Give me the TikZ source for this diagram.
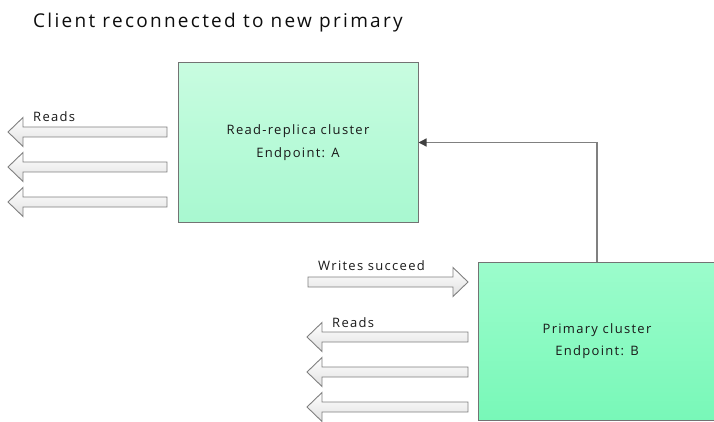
\documentclass[tikz,border=0pt]{standalone}
\usepackage{fontspec}
\setmainfont{Open Sans}
\newfontfamily\titlefont[LetterSpace=12]{Open Sans}
\newfontfamily\lblfont[LetterSpace=10]{Open Sans}
\usetikzlibrary{arrows.meta}
\tikzset{
  blockarrow/.style={draw=black!50, line width=0.9pt, top color=white, bottom color=black!12, line join=miter},
  cluster/.style={draw=black!55, line width=1pt, rectangle, align=center, font=\lblfont\fontsize{13}{22.5}\selectfont, text=black!90},
  lbl/.style={font=\lblfont\fontsize{13}{15}\selectfont, text=black!90, inner sep=0pt},
  conn/.style={draw=black!50, line width=1.3pt, -{Triangle[length=8pt,width=8pt,fill=black!75,color=black!75]}}
}
\newcommand{\leftblock}[3]{% tip x, right x, center y
  \path[blockarrow] (#2,#3-5) -- (#1+15,#3-5) -- (#1+15,#3-14.5) -- (#1,#3) -- (#1+15,#3+14.5) -- (#1+15,#3+5) -- (#2,#3+5) -- cycle;}
\newcommand{\rightblock}[3]{% left x, tip x, center y
  \path[blockarrow] (#1,#3-5) -- (#2-15,#3-5) -- (#2-15,#3-14.5) -- (#2,#3) -- (#2-15,#3+14.5) -- (#2-15,#3+5) -- (#1,#3+5) -- cycle;}
\begin{document}
\begin{tikzpicture}[x=1pt,y=-1pt]
\useasboundingbox (0,0) rectangle (714,422);
% title
\node[anchor=base west, inner sep=0pt, font=\titlefont\fontsize{19}{22}\selectfont, text=black!95] (title) at (33,28) {Client reconnected to new primary};
% boxes
\path[draw=black!55, line width=1pt, top color={rgb,255:red,200;green,252;blue,224}, bottom color={rgb,255:red,168;green,248;blue,208}] (178,63) rectangle (418,222);
\node[cluster, minimum width=240pt, minimum height=159pt] (replica) at (298,142.5) {Read-replica cluster\\Endpoint: A};
\path[draw=black!55, line width=1pt, top color={rgb,255:red,156;green,252;blue,204}, bottom color={rgb,255:red,120;green,248;blue,184}] (478,262) rectangle (716,420);
\node[cluster, minimum width=238pt, minimum height=158pt] (primary) at (597,341) {Primary cluster\\Endpoint: B};
% connector
\coordinate (bend) at (primary.north |- replica.east);
\draw[conn] (primary.north) -- (bend) -- (replica.east);
% top read arrows
\leftblock{8}{167}{132}
\leftblock{8}{167}{167}
\leftblock{8}{167}{202}
\node[lbl, anchor=base west] (reads1) at (33,122) {Reads};
% bottom arrows
\rightblock{308}{468}{282}
\node[lbl, anchor=base west] (writes) at (318,270) {Writes succeed};
\leftblock{307}{468}{337}
\leftblock{307}{468}{372}
\leftblock{307}{468}{407}
\node[lbl, anchor=base west] (reads2) at (332,327) {Reads};
\end{tikzpicture}
\end{document}
